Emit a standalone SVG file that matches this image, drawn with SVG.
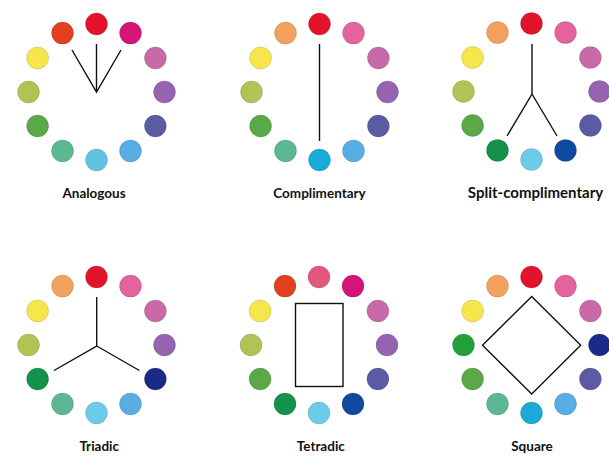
<svg xmlns="http://www.w3.org/2000/svg" width="609" height="456" viewBox="0 0 609 456">
<style>
  .d{stroke:#000;stroke-opacity:0.12;stroke-width:1}
  .ln{fill:none;stroke:#111;stroke-width:1.4;stroke-linecap:butt;stroke-linejoin:miter}
  .lbl{font-family:Lato,"Open Sans","Liberation Sans",sans-serif;font-weight:700;font-size:13.5px;fill:#111;text-anchor:middle}
  .big{font-size:15px}
  .red{fill:#e2132b}.rorange{fill:#e2401e}.magenta{fill:#d51477}.pink{fill:#e4639c}
  .mauve{fill:#c96aa8}.purple{fill:#9563b0}.indigo{fill:#5b5ba3}.lblue{fill:#58aee3}
  .cyan{fill:#62c2e4}.cyans{fill:#1aaad8}.lcyan{fill:#6ccbe8}.teal{fill:#5cb892}
  .green{fill:#5aa847}.ygreen{fill:#b2c255}.yellow{fill:#f6e64c}.orange{fill:#f2a25e}
  .dgreen{fill:#14914a}.navy{fill:#1b2a88}.dblue{fill:#0f4aa0}.pinkred{fill:#e2587a}
  .green9{fill:#22a03a}
</style>
<rect width="609" height="456" fill="#ffffff"/>

<g id="analogous" transform="translate(96.5,92)">
  <circle class="d red" cx="0" cy="-68" r="11"/>
  <circle class="d magenta" cx="34" cy="-58.9" r="11"/>
  <circle class="d mauve" cx="58.9" cy="-34" r="11"/>
  <circle class="d purple" cx="68" cy="0" r="11"/>
  <circle class="d indigo" cx="58.9" cy="34" r="11"/>
  <circle class="d lblue" cx="34" cy="58.9" r="11"/>
  <circle class="d cyan" cx="0" cy="68" r="11"/>
  <circle class="d teal" cx="-34" cy="58.9" r="11"/>
  <circle class="d green" cx="-58.9" cy="34" r="11"/>
  <circle class="d ygreen" cx="-68" cy="0" r="11"/>
  <circle class="d yellow" cx="-58.9" cy="-34" r="11"/>
  <circle class="d rorange" cx="-34" cy="-58.9" r="11"/>
  <text class="lbl" x="-2.5" y="106">Analogous</text>
</g>

<g id="complimentary" transform="translate(319.5,92)">
  <circle class="d red" cx="0" cy="-68" r="11"/>
  <circle class="d pink" cx="34" cy="-58.9" r="11"/>
  <circle class="d mauve" cx="58.9" cy="-34" r="11"/>
  <circle class="d purple" cx="68" cy="0" r="11"/>
  <circle class="d indigo" cx="58.9" cy="34" r="11"/>
  <circle class="d lblue" cx="34" cy="58.9" r="11"/>
  <circle class="d cyans" cx="0" cy="68" r="11"/>
  <circle class="d teal" cx="-34" cy="58.9" r="11"/>
  <circle class="d green" cx="-58.9" cy="34" r="11"/>
  <circle class="d ygreen" cx="-68" cy="0" r="11"/>
  <circle class="d yellow" cx="-58.9" cy="-34" r="11"/>
  <circle class="d orange" cx="-34" cy="-58.9" r="11"/>
  <text class="lbl" x="0" y="106">Complimentary</text>
</g>

<g id="split-complimentary" transform="translate(531.5,91.5)">
  <circle class="d red" cx="0" cy="-68" r="11"/>
  <circle class="d pink" cx="34" cy="-58.9" r="11"/>
  <circle class="d mauve" cx="58.9" cy="-34" r="11"/>
  <circle class="d purple" cx="68" cy="0" r="11"/>
  <circle class="d indigo" cx="58.9" cy="34" r="11"/>
  <circle class="d dblue" cx="34" cy="58.9" r="11"/>
  <circle class="d lcyan" cx="0" cy="68" r="11"/>
  <circle class="d dgreen" cx="-34" cy="58.9" r="11"/>
  <circle class="d green" cx="-58.9" cy="34" r="11"/>
  <circle class="d ygreen" cx="-68" cy="0" r="11"/>
  <circle class="d yellow" cx="-58.9" cy="-34" r="11"/>
  <circle class="d orange" cx="-34" cy="-58.9" r="11"/>
  <text class="lbl big" x="4" y="106.5">Split-complimentary</text>
</g>

<g id="triadic" transform="translate(96.5,345)">
  <circle class="d red" cx="0" cy="-68" r="11"/>
  <circle class="d pink" cx="34" cy="-58.9" r="11"/>
  <circle class="d mauve" cx="58.9" cy="-34" r="11"/>
  <circle class="d purple" cx="68" cy="0" r="11"/>
  <circle class="d navy" cx="58.9" cy="34" r="11"/>
  <circle class="d lblue" cx="34" cy="58.9" r="11"/>
  <circle class="d lcyan" cx="0" cy="68" r="11"/>
  <circle class="d teal" cx="-34" cy="58.9" r="11"/>
  <circle class="d dgreen" cx="-58.9" cy="34" r="11"/>
  <circle class="d ygreen" cx="-68" cy="0" r="11"/>
  <circle class="d yellow" cx="-58.9" cy="-34" r="11"/>
  <circle class="d orange" cx="-34" cy="-58.9" r="11"/>
  <text class="lbl" x="2.7" y="106">Triadic</text>
</g>

<g id="tetradic" transform="translate(319,345)">
  <circle class="d pinkred" cx="0" cy="-68" r="11"/>
  <circle class="d magenta" cx="34" cy="-58.9" r="11"/>
  <circle class="d mauve" cx="58.9" cy="-34" r="11"/>
  <circle class="d purple" cx="68" cy="0" r="11"/>
  <circle class="d indigo" cx="58.9" cy="34" r="11"/>
  <circle class="d dblue" cx="34" cy="58.9" r="11"/>
  <circle class="d lcyan" cx="0" cy="68" r="11"/>
  <circle class="d dgreen" cx="-34" cy="58.9" r="11"/>
  <circle class="d green" cx="-58.9" cy="34" r="11"/>
  <circle class="d ygreen" cx="-68" cy="0" r="11"/>
  <circle class="d yellow" cx="-58.9" cy="-34" r="11"/>
  <circle class="d rorange" cx="-34" cy="-58.9" r="11"/>
  <text class="lbl" x="1.8" y="106">Tetradic</text>
</g>

<g id="square" transform="translate(531.5,345)">
  <circle class="d red" cx="0" cy="-68" r="11"/>
  <circle class="d pink" cx="34" cy="-58.9" r="11"/>
  <circle class="d mauve" cx="58.9" cy="-34" r="11"/>
  <circle class="d navy" cx="68" cy="0" r="11"/>
  <circle class="d indigo" cx="58.9" cy="34" r="11"/>
  <circle class="d lblue" cx="34" cy="58.9" r="11"/>
  <circle class="d cyans" cx="0" cy="68" r="11"/>
  <circle class="d teal" cx="-34" cy="58.9" r="11"/>
  <circle class="d green" cx="-58.9" cy="34" r="11"/>
  <circle class="d green9" cx="-68" cy="0" r="11"/>
  <circle class="d yellow" cx="-58.9" cy="-34" r="11"/>
  <circle class="d orange" cx="-34" cy="-58.9" r="11"/>
  <text class="lbl" x="0.5" y="106">Square</text>
</g>

<g id="connectors">
  <path class="ln" d="M72,50 L96.5,92 L121,50 M96.5,92 L96.5,44"/>
  <path class="ln" d="M319.5,44 L319.5,141"/>
  <path class="ln" d="M532,44 L532,94 L507,136 M532,94 L557,136"/>
  <path class="ln" d="M96.7,297 L96.7,346 L54,370.5 M96.7,346 L139.4,370.5"/>
  <rect class="ln" x="295.5" y="303.5" width="47.5" height="83"/>
  <path class="ln" d="M531.7,296.5 L580.7,345.3 L531.7,394 L482.5,345.3 Z"/>
</g>
</svg>
